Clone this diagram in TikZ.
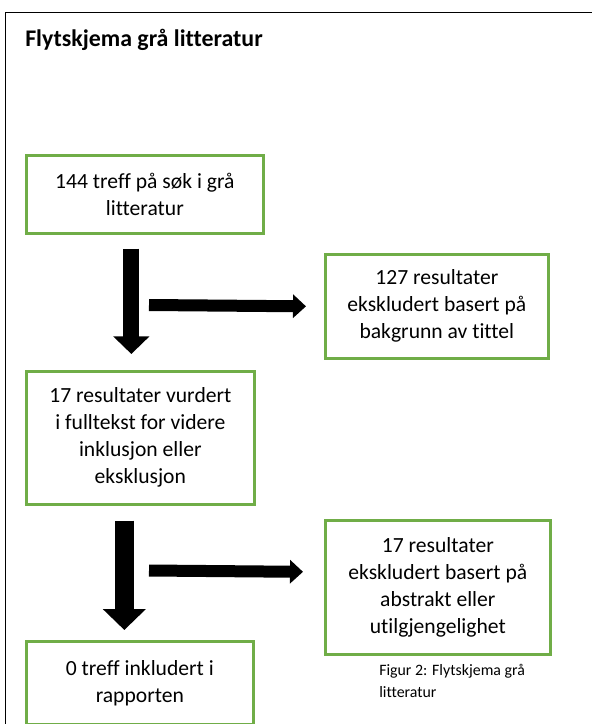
\documentclass[tikz,border=0pt]{standalone}
\usepackage{fontspec}
\setmainfont[Ligatures=NoCommon]{Carlito}
\usetikzlibrary{arrows.meta}
\definecolor{boxgreen}{HTML}{70AD47}
\def\px{0.75pt}

\tikzset{
	flowbox/.style={draw=boxgreen, line width=2pt, align=center, anchor=north west,
		inner sep=0pt, font=\fontsize{16.2}{20.25}\selectfont},
	downarrow/.style={line width=#1*\px, -{Triangle[width=2.2*#1*\px, length=1.1*#1*\px]}},
	sidearrow/.style={line width=12*\px, -{Triangle[width=23*\px, length=13*\px]}}
}

\begin{document}
\begin{tikzpicture}[x=0.75pt, y=-0.75pt, line join=miter]
			%%%%% START %%%%%
			\useasboundingbox (0,0) rectangle (592,724);
			
			% frame
			\draw[line width=1.5*\px] (5.5,724) -- (5.5,12.5) -- (592,12.5);
			\node[anchor=base west, inner sep=0pt, font=\fontsize{17.9}{22}\selectfont\bfseries] (title) at (25,47) {Flytskjema grå litteratur};

			% boxes
			\node[flowbox, minimum width=237*\px, minimum height=78*\px] (treff) at (25,154) {144 treff på søk i grå\\litteratur};
			\node[flowbox, minimum width=223*\px, minimum height=104*\px] (tittel) at (324,253) {127 resultater\\ekskludert basert på\\bakgrunn av tittel};
			\node[flowbox, minimum width=228*\px, minimum height=133*\px] (fulltekst) at (25,370) {17 resultater vurdert\\i fulltekst for videre\\inklusjon eller\\eksklusjon};
			\node[flowbox, minimum width=225*\px, minimum height=134*\px] (abstrakt) at (324,519) {17 resultater\\ekskludert basert på\\abstrakt eller\\utilgjengelighet};
			\node[flowbox, minimum width=227*\px, minimum height=83*\px] (rapport) at (25,640) {0 treff inkludert i\\rapporten};

			% arrows
			\draw[downarrow=16] ([shift={(-13.5,14)}]treff.south) -- ([shift={(-9,-16)}]fulltekst.north);
			\coordinate (side1) at (149,305);
			\draw[sidearrow] (side1) -- ([shift={(-18,0)}]tittel.west);
			\draw[downarrow=19] ([shift={(-16,15)}]fulltekst.south) -- ([shift={(-15.5,-10)}]rapport.north);
			\coordinate (side2) at (149,570.5);
			\draw[sidearrow] (side2) -- ([shift={(-21,-15.5)}]abstrakt.west);

			% caption
			\node[anchor=base west, inner sep=0pt, align=left, font=\fontsize{11.9}{16.5}\selectfont] (caption) at (379,697) {Figur 2: Flytskjema grå\\litteratur};
			%%%%% END %%%%%
\end{tikzpicture}
\end{document}
